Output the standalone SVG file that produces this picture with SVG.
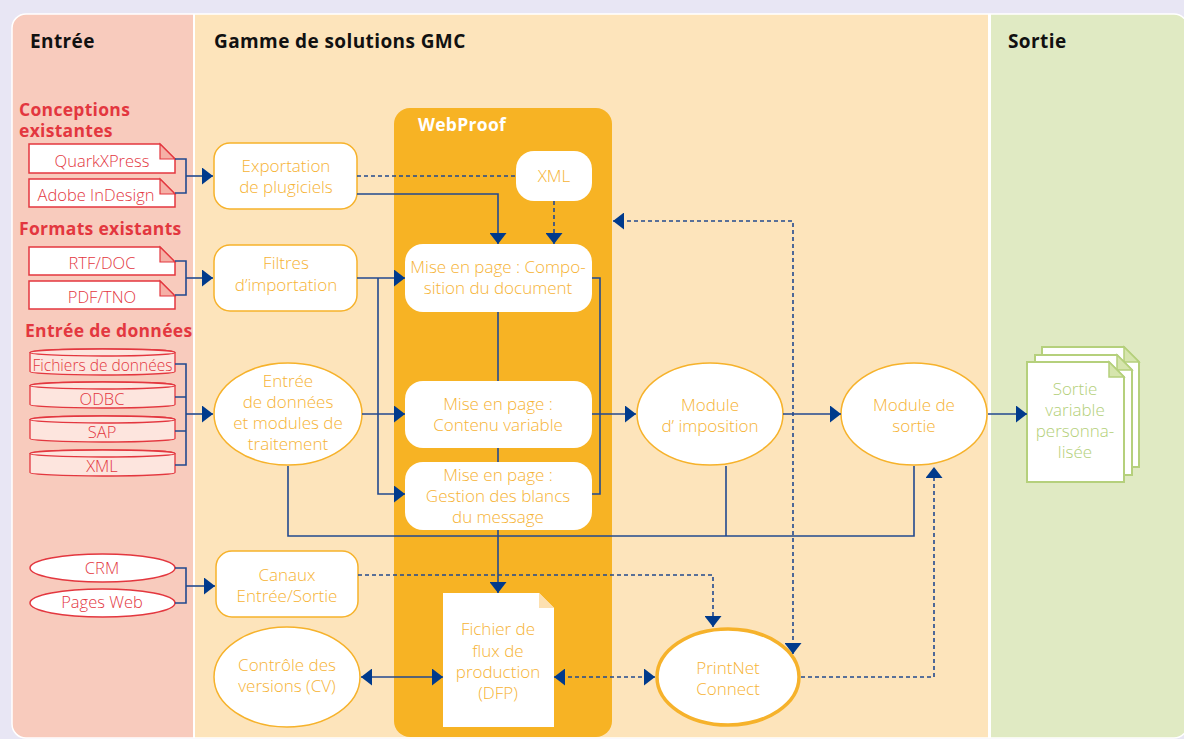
<svg xmlns="http://www.w3.org/2000/svg" width="1184" height="739" viewBox="0 0 1184 739">
<style>
text{font-family:"Open Sans","Noto Sans","DejaVu Sans",sans-serif}
.hd{font-size:19px;font-weight:bold;fill:#111;letter-spacing:0.4px}
.rh{font-size:17.5px;font-weight:bold;fill:#e3373f;letter-spacing:0.3px}
.rt{font-size:16.5px;font-weight:300;fill:#e3373f;text-anchor:middle}
.rdoc{fill:#fff;stroke:#e3373f;stroke-width:1.5}
.rfold{fill:#f5b0a6;stroke:#e3373f;stroke-width:1.2}
.cyl{fill:#fde5de;stroke:#e3373f;stroke-width:1.3}
.on{fill:#fff;stroke:#f6b22b;stroke-width:1.5}
.ot{font-size:17px;font-weight:300;fill:#f6b335;text-anchor:middle}
.gt{font-size:17px;font-weight:300;fill:#b3cf78;text-anchor:middle}
.gdoc{fill:#fff;stroke:#b5d07c;stroke-width:2}
.gfold{fill:#d6e5ad;stroke:#b5d07c;stroke-width:1.5}
.ln{fill:none;stroke:#22498f;stroke-width:1.6}
.ds{fill:none;stroke:#22498f;stroke-width:1.6;stroke-dasharray:4 3}
</style>
<defs>
<marker id="ah" markerUnits="userSpaceOnUse" markerWidth="11" markerHeight="17" viewBox="0 0 11 17" refX="11" refY="8.5" orient="auto-start-reverse">
<path d="M0,0 L11,8.5 L0,17 Z" fill="#003a8c"/>
</marker>
<clipPath id="pc"><rect x="12" y="14" width="1176" height="724" rx="14"/></clipPath>
</defs>
<rect width="1184" height="739" fill="#e8e6f4"/>
<g id="panel" clip-path="url(#pc)">
<rect x="12" y="14" width="182" height="730" fill="#f8cbbd"/>
<rect x="194" y="14" width="796" height="730" fill="#fde4bb"/>
<rect x="990" y="14" width="200" height="730" fill="#e0eac3"/>
<rect x="193" y="14" width="2" height="730" fill="#fff"/>
<rect x="988" y="14" width="3" height="730" fill="#fff"/>
</g>
<rect x="12" y="14" width="1176" height="724" rx="14" fill="none" stroke="#fff" stroke-width="1.5"/>
<text class="hd" x="30" y="48">Entrée</text>
<text class="hd" x="214" y="48">Gamme de solutions GMC</text>
<text class="hd" x="1008" y="48">Sortie</text>
<text class="rh" x="19" y="116">Conceptions</text>
<text class="rh" x="19" y="137">existantes</text>
<text class="rh" x="19" y="235">Formats existants</text>
<text class="rh" x="25" y="337">Entrée de données</text>
<g id="webproof">
<rect x="394" y="108" width="218" height="629" rx="16" fill="#f7b324"/>
<text x="418" y="131" style="font-size:17.5px;font-weight:bold;fill:#fff;letter-spacing:0.3px">WebProof</text>
</g>
<g id="quark"><path class="rdoc" d="M29,144 H160 L175,159 V173 H29 Z"/><path class="rfold" d="M160,144 V159 H175 Z"/><text class="rt" x="102" y="167">QuarkXPress</text></g>
<g id="indesign"><path class="rdoc" d="M29,179 H160 L175,194 V207 H29 Z"/><path class="rfold" d="M160,179 V194 H175 Z"/><text class="rt" x="96" y="201">Adobe InDesign</text></g>
<g id="rtf"><path class="rdoc" d="M29,247 H160 L175,262 V275 H29 Z"/><path class="rfold" d="M160,247 V262 H175 Z"/><text class="rt" x="102" y="269">RTF/DOC</text></g>
<g id="pdf"><path class="rdoc" d="M29,281 H160 L175,296 V309 H29 Z"/><path class="rfold" d="M160,281 V296 H175 Z"/><text class="rt" x="102" y="303">PDF/TNO</text></g>
<g id="fichiers"><path class="cyl" d="M30,352.5 A72.5,3.5 0 0 1 175,352.5 V371.5 A72.5,3.5 0 0 1 30,371.5 Z"/><ellipse class="cyl" cx="102.5" cy="352.5" rx="72.5" ry="3.5"/><text class="rt" x="102.5" y="371" textLength="140" lengthAdjust="spacingAndGlyphs">Fichiers de données</text></g>
<g id="odbc"><path class="cyl" d="M30,385.5 A72.5,3.5 0 0 1 175,385.5 V404.5 A72.5,3.5 0 0 1 30,404.5 Z"/><ellipse class="cyl" cx="102.5" cy="385.5" rx="72.5" ry="3.5"/><text class="rt" x="102" y="405">ODBC</text></g>
<g id="sap"><path class="cyl" d="M30,419.5 A72.5,3.5 0 0 1 175,419.5 V438.5 A72.5,3.5 0 0 1 30,438.5 Z"/><ellipse class="cyl" cx="102.5" cy="419.5" rx="72.5" ry="3.5"/><text class="rt" x="102" y="438">SAP</text></g>
<g id="xmlin"><path class="cyl" d="M30,453.5 A72.5,3.5 0 0 1 175,453.5 V472.5 A72.5,3.5 0 0 1 30,472.5 Z"/><ellipse class="cyl" cx="102.5" cy="453.5" rx="72.5" ry="3.5"/><text class="rt" x="102" y="472">XML</text></g>
<g id="crm"><ellipse class="rdoc" cx="102.5" cy="568" rx="72.5" ry="14"/><text class="rt" x="102" y="574">CRM</text></g>
<g id="pagesweb"><ellipse class="rdoc" cx="102.5" cy="603" rx="72.5" ry="14"/><text class="rt" x="102" y="608">Pages Web</text></g>
<g id="export"><rect class="on" x="214" y="143" width="143" height="66" rx="16"/><text class="ot" x="286" y="172">Exportation</text><text class="ot" x="286" y="193">de plugiciels</text></g>
<g id="filtres"><rect class="on" x="214" y="245" width="143" height="66" rx="16"/><text class="ot" x="286" y="269">Filtres</text><text class="ot" x="286" y="291">d’importation</text></g>
<g id="entree"><ellipse class="on" cx="288" cy="414" rx="74" ry="51"/><text class="ot" x="288" y="387">Entrée</text><text class="ot" x="288" y="408">de données</text><text class="ot" x="288" y="429">et modules de</text><text class="ot" x="288" y="450">traitement</text></g>
<g id="canaux"><rect class="on" x="216" y="551" width="142" height="66" rx="16"/><text class="ot" x="287" y="581">Canaux</text><text class="ot" x="287" y="602">Entrée/Sortie</text></g>
<g id="cv"><ellipse class="on" cx="287" cy="677" rx="73" ry="50"/><text class="ot" x="287" y="671">Contrôle des</text><text class="ot" x="287" y="692">versions (CV)</text></g>
<g id="xml"><rect x="516" y="151" width="76" height="50" rx="18" fill="#fff"/><text class="ot" x="554" y="182">XML</text></g>
<g id="compo"><rect x="405" y="244" width="187" height="68" rx="18" fill="#fff"/><text class="ot" x="498" y="273">Mise en page : Compo-</text><text class="ot" x="498" y="294">sition du document</text></g>
<g id="contenu"><rect x="405" y="381" width="187" height="67" rx="18" fill="#fff"/><text class="ot" x="498" y="410">Mise en page :</text><text class="ot" x="498" y="431">Contenu variable</text></g>
<g id="gestion"><rect x="405" y="462" width="187" height="68" rx="18" fill="#fff"/><text class="ot" x="498" y="481">Mise en page :</text><text class="ot" x="498" y="502">Gestion des blancs</text><text class="ot" x="498" y="523">du message</text></g>
<g id="dfp"><path d="M443,593 H539 L554,608 V727 H443 Z" fill="#fff"/><path d="M539,593 V608 H554 Z" fill="#fde0b0"/><text class="ot" x="498" y="635">Fichier de</text><text class="ot" x="498" y="657">flux de</text><text class="ot" x="498" y="678">production</text><text class="ot" x="498" y="699">(DFP)</text></g>
<g id="printnet"><ellipse cx="728" cy="677" rx="71" ry="48" fill="#fff" stroke="#f6b22b" stroke-width="3.5"/><text class="ot" x="728" y="674">PrintNet</text><text class="ot" x="728" y="695">Connect</text></g>
<g id="imposition"><ellipse class="on" cx="710" cy="414" rx="73" ry="51"/><text class="ot" x="710" y="411">Module</text><text class="ot" x="710" y="432">d’ imposition</text></g>
<g id="modsortie"><ellipse class="on" cx="914" cy="414" rx="73" ry="51"/><text class="ot" x="914" y="411">Module de</text><text class="ot" x="914" y="432">sortie</text></g>
<g id="sortiedocs">
<path class="gdoc" d="M1042,347 H1124 L1139,362 V467 H1042 Z"/><path class="gfold" d="M1124,347 V362 H1139 Z"/>
<path class="gdoc" d="M1035,355 H1117 L1132,370 V475 H1035 Z"/><path class="gfold" d="M1117,355 V370 H1132 Z"/>
<path class="gdoc" d="M1027,362 H1109 L1124,377 V482 H1027 Z"/><path class="gfold" d="M1109,362 V377 H1124 Z"/>
<text class="gt" x="1075" y="395">Sortie</text><text class="gt" x="1075" y="416">variable</text><text class="gt" x="1075" y="437">personna-</text><text class="gt" x="1075" y="458">lisée</text>
</g>
<g id="connectors">
<path class="ln" d="M175,159 H186 V193 H175"/>
<path class="ln" d="M186,176 H213" marker-end="url(#ah)"/>
<path class="ln" d="M175,261 H186 V295 H175"/>
<path class="ln" d="M186,278 H213" marker-end="url(#ah)"/>
<path class="ln" d="M175,364 H186 V465 H175 M175,397 H186 M175,431 H186"/>
<path class="ln" d="M186,414 H213" marker-end="url(#ah)"/>
<path class="ln" d="M175,568 H186 V603 H175"/>
<path class="ln" d="M186,586 H215" marker-end="url(#ah)"/>
<path class="ln" d="M357,194 H498 V244" marker-end="url(#ah)"/>
<path class="ds" d="M357,176 H516"/>
<path class="ds" d="M554,201 V244" marker-end="url(#ah)"/>
<path class="ln" d="M357,278 H405" marker-end="url(#ah)"/>
<path class="ln" d="M378,278 V494 H405" marker-end="url(#ah)"/>
<path class="ln" d="M362,414 H405" marker-end="url(#ah)"/>
<path class="ln" d="M498,312 V381 M498,448 V462"/>
<path class="ln" d="M498,530 V593" marker-end="url(#ah)"/>
<path class="ln" d="M592,278 H600 V494 H592"/>
<path class="ln" d="M592,414 H636" marker-end="url(#ah)"/>
<path class="ln" d="M783,414 H841" marker-end="url(#ah)"/>
<path class="ln" d="M988,414 H1027" marker-end="url(#ah)"/>
<path class="ln" d="M288,466 V536 H914 V466 M726,466 V536"/>
<path class="ds" d="M613,221 H793 V654" marker-start="url(#ah)" marker-end="url(#ah)"/>
<path class="ds" d="M358,575 H713 V627" marker-end="url(#ah)"/>
<path class="ds" d="M554,677 H655" marker-start="url(#ah)" marker-end="url(#ah)"/>
<path class="ds" d="M801,677 H934 V467" marker-end="url(#ah)"/>
<path class="ln" d="M361,677 H443" marker-start="url(#ah)" marker-end="url(#ah)"/>
</g>
</svg>
